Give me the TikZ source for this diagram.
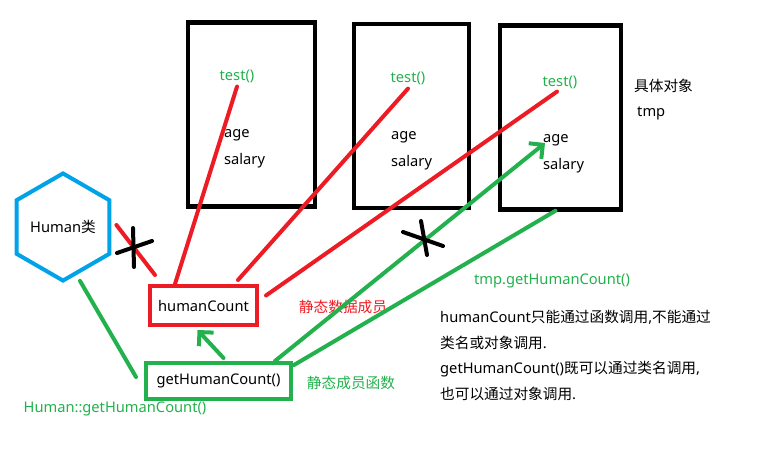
\documentclass[tikz,border=0pt]{standalone}
\usepackage{fontspec}
\setmainfont{Noto Sans}
\newfontfamily\cjk{Noto Sans CJK SC}
\usepackage{tikz}
\usetikzlibrary{positioning,arrows.meta,shapes.geometric}
\definecolor{PaintRed}{RGB}{237,28,36}
\definecolor{PaintGreen}{RGB}{34,177,76}
\definecolor{PaintBlue}{RGB}{0,162,232}

\begin{document}
\begin{tikzpicture}[
  x=1pt, y=-1pt,
  font=\fontsize{14.67}{17.6}\selectfont,
  objbox/.style={draw=black, line width=4.5pt, minimum width=#1, minimum height=184pt, inner sep=0pt},
  classhex/.style={draw=PaintBlue, line width=4pt, regular polygon, regular polygon sides=6, shape border rotate=30, minimum size=97pt, inner sep=0pt},
  member/.style={line width=4pt, inner sep=0pt, align=center},
  label/.style={inner sep=0pt, anchor=west},
  redline/.style={draw=PaintRed, line width=4pt, line cap=round},
  greenline/.style={draw=PaintGreen, line width=4pt, line cap=round},
  arrow/.style={greenline, -{Straight Barb[length=10pt,width=20pt]}}
]
\useasboundingbox (0,0) rectangle (776,464);

\node[objbox=127pt] (obj1) at (251.5,114.5) {};
\node[objbox=115pt] (obj2) at (411.5,116) {};
\node[objbox=121pt] (obj3) at (560.5,117.5) {};

\node[text=PaintGreen, inner sep=0pt] (test1) at (237,76) {test()};
\node[text=PaintGreen, inner sep=0pt] (test2) at (408,78) {test()};
\node[text=PaintGreen, inner sep=0pt] (test3) at (560,82) {test()};
\node[label] (age1) at (224,135) {age};
\node[label] (sal1) at (224,161) {salary};
\node[label] (age2) at (391,137) {age};
\node[label] (sal2) at (391,163) {salary};
\node[label] (age3) at (543,140) {age};
\node[label] (sal3) at (543,166) {salary};
\node[label] (objtitle) at (634,86) {\cjk 具体对象};
\node[label] (objname) at (637,113) {tmp};

\node[classhex] (human) at (63,227) {Human{\cjk 类}};
\node[member, draw=PaintRed, minimum width=107pt, minimum height=39pt] (count) at (203.5,305.5) {humanCount};
\node[member, draw=PaintGreen, minimum width=145pt, minimum height=36pt] (getter) at (218.5,381) {getHumanCount()};

\node[text=PaintGreen, inner sep=0pt] (classcall) at (115,409) {Human::getHumanCount()};
\node[text=PaintRed, inner sep=0pt] (datanote) at (343,307) {\cjk 静态数据成员};
\node[text=PaintGreen, inner sep=0pt] (funcnote) at (351,383) {\cjk 静态成员函数};
\node[text=PaintGreen, inner sep=0pt] (objcall) at (552,281) {tmp.getHumanCount()};
\node[label, align=left, font=\fontsize{14.67}{25.7}\selectfont] (remark) at (440,355.5)
  {humanCount{\cjk 只能通过函数调用},{\cjk 不能通过}\\
   {\cjk 类名或对象调用}.\\
   getHumanCount(){\cjk 既可以通过类名调用},\\
   {\cjk 也可以通过对象调用}.};

\draw[redline] ([xshift=-28.5pt]count.north) -- ([yshift=-4pt]test1.south);
\draw[redline] ([xshift=34.5pt,yshift=4pt]count.north) -- ([yshift=-4pt]test2.south);
\draw[redline] ([xshift=7pt,yshift=10pt]count.east) -- ([xshift=-3pt,yshift=-3pt]test3.south);
\draw[redline] ([xshift=7pt,yshift=9pt]count.north west) -- ([xshift=5pt,yshift=2pt]human.east);

\draw[greenline] ([xshift=17pt,yshift=2pt]human.south) -- ([xshift=-8pt,yshift=4pt]getter.west);
\draw[arrow] ([xshift=5pt,yshift=3pt]getter.north) -- ([xshift=-6pt,yshift=-3pt]count.south);
\draw[arrow] ([xshift=-18pt]getter.north east) -- ([xshift=2pt,yshift=-3pt]age3.west);
\draw[greenline] ([xshift=1pt,yshift=-4pt]getter.north east) -- ([xshift=-5pt,yshift=1pt]obj3.south);

\draw[line width=4pt, line cap=round] (117,253) -- (152,241);
\draw[line width=4pt, line cap=round] (133,228) -- (134,267);
\draw[line width=4pt, line cap=round] (403,232) -- (443,246);
\draw[line width=4pt, line cap=round] (421,221) -- (427,255);
\end{tikzpicture}
\end{document}
